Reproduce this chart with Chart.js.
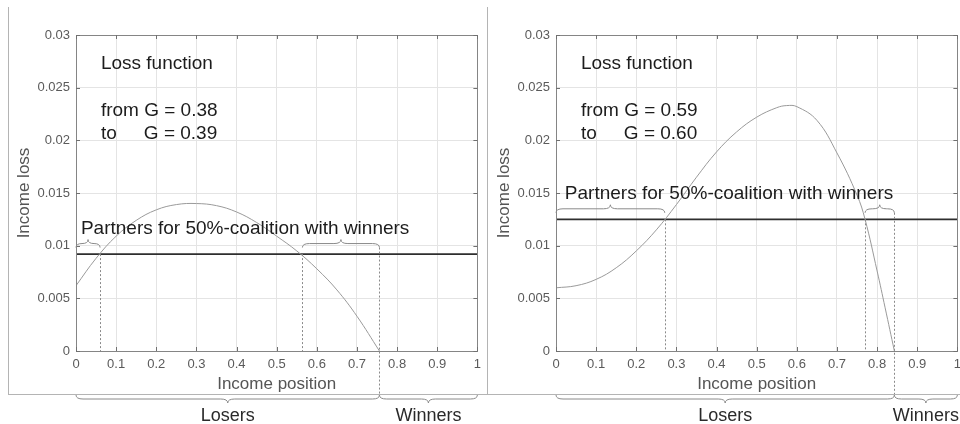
<!DOCTYPE html>
<html><head><meta charset="utf-8">
<script src="https://cdn.jsdelivr.net/npm/chart.js@4.4.1/dist/chart.umd.min.js"></script>
<style>
html,body{margin:0;padding:0;background:#fff;overflow:hidden;width:960px;height:424px;}
#wrap{position:relative;width:960px;height:424px;overflow:hidden;background:#fff;}
#c1{position:absolute;left:0;top:0;}
#c2{position:absolute;left:487px;top:0;}
</style></head><body>
<div id="wrap"><canvas id="c1" width="487" height="424"></canvas><canvas id="c2" width="480" height="424"></canvas></div>
<script>
// ---- data ----
const xTickValues = [0,0.1,0.2,0.3,0.4,0.5,0.6,0.7,0.8,0.9,1];
const xTickLabels = ['0','0.1','0.2','0.3','0.4','0.5','0.6','0.7','0.8','0.9','1'];
const yTickValues = [0,0.005,0.01,0.015,0.02,0.025,0.03];
const yTickLabels = ['0','0.005','0.01','0.015','0.02','0.025','0.03'];

const leftPosition = [0,0.05,0.10,0.15,0.20,0.25,0.30,0.35,0.40,0.45,0.50,0.55,0.60,0.65,0.70,0.756];
const leftLoss     = [0.0062,0.0088,0.0109,0.0124,0.0134,0.0139,0.0140,0.0138,0.0132,0.0122,0.0109,0.0095,0.0078,0.0058,0.0033,0.0];
const rightPosition = [0,0.05,0.10,0.15,0.20,0.25,0.30,0.35,0.40,0.45,0.50,0.55,0.575,0.60,0.65,0.70,0.75,0.77,0.80,0.82,0.843];
const rightLoss     = [0.0060,0.0062,0.0068,0.0079,0.0095,0.0115,0.0139,0.0165,0.0189,0.0208,0.0222,0.0231,0.0233,0.0232,0.0219,0.0188,0.0148,0.0125,0.0076,0.0041,0.0];

const leftThreshold = 0.0092;
const rightThreshold = 0.0125;
const leftPartnerRanges = [[0,0.06],[0.564,0.756]];
const rightPartnerRanges = [[0,0.271],[0.77,0.843]];
const leftCrossings = [0.06,0.564];
const rightCrossings = [0.271,0.77];
const leftBoundary = 0.756;
const rightBoundary = 0.843;
const leftGini = ['0.38','0.39'];
const rightGini = ['0.59','0.60'];

// ---- drawing ----
const FONT = '"Liberation Sans", Arial, Helvetica, sans-serif';

function brace(ctx, x1, x2, yEnd, yFlat, yTip) {
  const mid = (x1 + x2) / 2;
  const r = Math.min(7, (x2 - x1) / 4);
  ctx.beginPath();
  ctx.moveTo(x1, yEnd);
  ctx.quadraticCurveTo(x1, yFlat, x1 + r, yFlat);
  ctx.lineTo(mid - r, yFlat);
  ctx.quadraticCurveTo(mid, yFlat, mid, yTip);
  ctx.quadraticCurveTo(mid, yFlat, mid + r, yFlat);
  ctx.lineTo(x2 - r, yFlat);
  ctx.quadraticCurveTo(x2, yFlat, x2, yEnd);
  ctx.stroke();
}

const annot = {
  id: 'annot',
  afterDatasetsDraw(chart, args, o) {
    const ctx = chart.ctx, xs = chart.scales.x, ys = chart.scales.y, a = chart.chartArea;
    const X = v => xs.getPixelForValue(v), Y = v => ys.getPixelForValue(v);
    ctx.save();
    // plot box
    ctx.strokeStyle = '#858585'; ctx.lineWidth = 1; ctx.setLineDash([]);
    ctx.strokeRect(Math.round(a.left) + 0.5, Math.round(a.top) + 0.5, Math.round(a.right - a.left), Math.round(a.bottom - a.top));
    // inner tick marks
    ctx.strokeStyle = '#707070';
    ctx.beginPath();
    xTickValues.forEach(v => {
      const px = Math.round(X(v)) + 0.5;
      ctx.moveTo(px, a.bottom); ctx.lineTo(px, a.bottom - 4);
      ctx.moveTo(px, a.top); ctx.lineTo(px, a.top + 4);
    });
    yTickValues.forEach(v => {
      const py = Math.round(Y(v)) + 0.5;
      ctx.moveTo(a.left, py); ctx.lineTo(a.left + 4, py);
      ctx.moveTo(a.right, py); ctx.lineTo(a.right - 4, py);
    });
    ctx.stroke();

    // dotted vertical lines
    ctx.strokeStyle = '#8a8a8a'; ctx.lineWidth = 1; ctx.setLineDash([2, 2]);
    ctx.beginPath();
    o.crossings.forEach(v => {
      const px = Math.round(X(v)) + 0.5;
      ctx.moveTo(px, Y(o.threshold)); ctx.lineTo(px, Y(0));
    });
    const bx = Math.round(X(o.boundary)) + 0.5;
    ctx.moveTo(bx, Y(o.threshold + o.braceGap) + 4); ctx.lineTo(bx, 395);
    ctx.stroke();
    ctx.setLineDash([]);

    // partner braces (above threshold line)
    ctx.strokeStyle = '#8a8a8a'; ctx.lineWidth = 1;
    const yf = Y(o.threshold + o.braceGap);
    o.ranges.forEach(r => brace(ctx, X(r[0]), X(r[1]), yf + 4, yf, yf - 4));

    // losers / winners braces below the axis
    brace(ctx, X(0), X(o.boundary), 395, 399, 403);
    brace(ctx, X(o.boundary), X(1), 395, 399, 403);

    // texts
    ctx.fillStyle = '#1c1c1c';
    ctx.font = '19px ' + FONT;
    ctx.textAlign = 'left'; ctx.textBaseline = 'alphabetic';
    ctx.fillText('Loss function', X(0.062), Y(0.0268));
    ctx.fillText('from G = ' + o.gini[0], X(0.062), Y(0.0223));
    ctx.fillText('to', X(0.062), Y(0.0201));
    ctx.fillText('G = ' + o.gini[1], X(0.169), Y(0.0201));
    ctx.fillText('Partners for 50%-coalition with winners', X(o.partnerX), Y(o.threshold + 0.0019));

    ctx.fillStyle = '#2a2a2a';
    ctx.font = '18px ' + FONT;
    ctx.textAlign = 'center';
    ctx.fillText('Losers', (X(0) + X(o.boundary)) / 2, 421);
    ctx.fillText('Winners', (X(o.boundary) + X(1)) / 2, 421);

    // figure frame
    ctx.strokeStyle = '#b4b4b4'; ctx.lineWidth = 1;
    ctx.beginPath();
    ctx.moveTo(o.frameX + 0.5, 7); ctx.lineTo(o.frameX + 0.5, 394.5);
    ctx.moveTo(o.frameX, 394.5); ctx.lineTo(chart.width, 394.5);
    ctx.stroke();
    ctx.restore();
  }
};

function makeChart(id, pos, loss, threshold, ranges, crossings, boundary, gini, partnerX, padLeft, padRight, frameX) {
  const curve = pos.map((p, i) => ({x: p, y: loss[i]}));
  return new Chart(document.getElementById(id), {
    type: 'line',
    data: {
      datasets: [
        {data: curve, borderColor: '#9a9a9a', borderWidth: 1, pointRadius: 0, tension: 0.4, fill: false},
        {data: [{x: 0, y: threshold}, {x: 1, y: threshold}], borderColor: '#2e2e2e', borderWidth: 1.6, pointRadius: 0, fill: false}
      ]
    },
    options: {
      responsive: false, animation: false, events: [],
      layout: {padding: {left: padLeft, right: padRight, top: 35, bottom: 28}},
      plugins: {
        legend: {display: false}, tooltip: {enabled: false},
        annot: {threshold, ranges, crossings, boundary, gini, partnerX, braceGap: 0.001, frameX}
      },
      scales: {
        x: {
          type: 'linear', min: 0, max: 1,
          afterBuildTicks: ax => { ax.ticks = xTickValues.map(v => ({value: v})); },
          afterFit: ax => { ax.height = 45; },
          ticks: {callback: (v, i) => xTickLabels[i], color: '#5a5a5a', font: {family: FONT, size: 13}, padding: 6, maxRotation: 0, autoSkip: false},
          grid: {color: '#e4e4e4', drawTicks: false, lineWidth: 1},
          border: {display: false},
          title: {display: true, text: 'Income position', color: '#555', font: {family: FONT, size: 17}, padding: {top: 0, bottom: 1}}
        },
        y: {
          type: 'linear', min: 0, max: 0.03,
          afterBuildTicks: ax => { ax.ticks = yTickValues.map(v => ({value: v})); },
          afterFit: ax => { ax.width = 68; },
          ticks: {callback: (v, i) => yTickLabels[i], color: '#5a5a5a', font: {family: FONT, size: 13}, padding: 6},
          grid: {color: '#e4e4e4', drawTicks: false, lineWidth: 1},
          border: {display: false},
          title: {display: true, text: 'Income loss', color: '#555', font: {family: FONT, size: 17}, padding: {top: 6, bottom: 0}}
        }
      }
    },
    plugins: [annot]
  });
}

makeChart('c1', leftPosition, leftLoss, leftThreshold, leftPartnerRanges, leftCrossings, leftBoundary, leftGini, 0.0123, 8, 6, 8);
makeChart('c2', rightPosition, rightLoss, rightThreshold, rightPartnerRanges, rightCrossings, rightBoundary, rightGini, 0.022, 1, 6, 0);
</script>
</body></html>
